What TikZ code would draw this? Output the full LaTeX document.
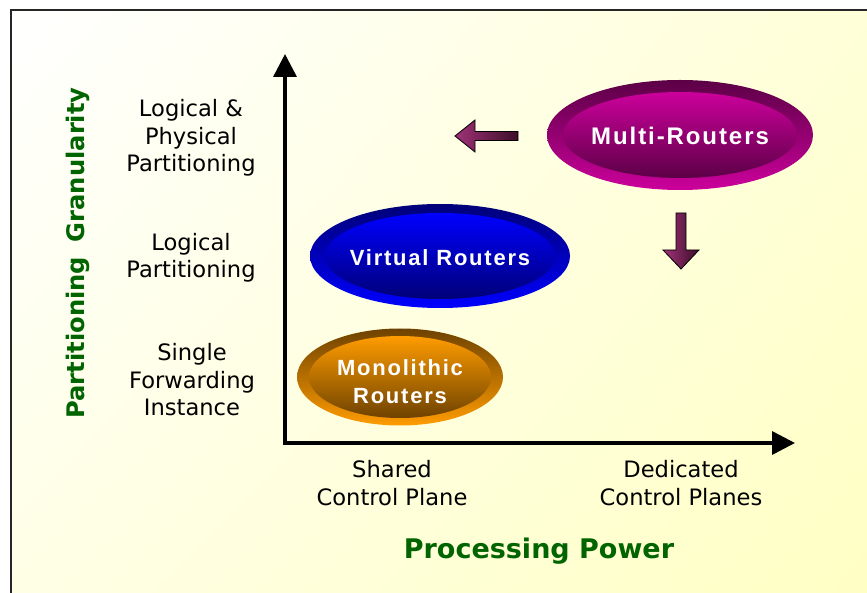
\documentclass[tikz,border=0pt]{standalone}
\usepackage{fontspec}
\setmainfont{DejaVu Sans}
\newfontfamily\ellfont{Liberation Sans}[LetterSpace=8]
\usetikzlibrary{arrows.meta,shapes.geometric,shadings}

\definecolor{bgA}{HTML}{FFFFFF}
\definecolor{bgB}{HTML}{FFFFD8}
\definecolor{bgC}{HTML}{FFFFE6}
\definecolor{bgD}{HTML}{FFFFC4}
\definecolor{titlegreen}{HTML}{006400}
\definecolor{mrDark}{HTML}{5C0046}
\definecolor{mrLight}{HTML}{CC009C}
\definecolor{vrDark}{HTML}{000078}
\definecolor{vrLight}{HTML}{0000FF}
\definecolor{moDark}{HTML}{6E4200}
\definecolor{moLight}{HTML}{FF9C00}
\definecolor{arLight}{HTML}{A03278}
\definecolor{arDark}{HTML}{3C0E28}

\tikzset{
  label/.style={font=\fontsize{22.6}{27.5}\selectfont, align=center, inner sep=0pt},
  axistitle/.style={font=\fontsize{27}{32}\selectfont\bfseries, text=titlegreen, inner sep=0pt},
  outerell/.style={ellipse, inner sep=0pt},
  ellname/.style={text=white, align=center, inner sep=0pt,
    font=\ellfont\bfseries\fontsize{22}{28}\selectfont},
  blockarrow/.style={draw=black, line width=0.8pt, line join=miter,
    left color=arLight, right color=arDark},
  axis/.style={line width=3.5pt, line join=miter,
    {Triangle[length=23pt,width=23pt]}-{Triangle[length=23pt,width=23pt]}}
}

\begin{document}
\begin{tikzpicture}[x=1pt,y=-1pt]
\useasboundingbox (0,0) rectangle (867,593);

% page background and frame
\fill[white] (0,0) rectangle (867,593);
\shade[upper left=bgA, upper right=bgB, lower left=bgC, lower right=bgD]
  (11,10) rectangle (867,593);
\draw[line width=1.5pt, black!85] (11,593) -- (11,10) -- (867,10);

% axes
\coordinate (origin) at (285,443);
\coordinate (ytip) at (285,54);
\coordinate (xtip) at (795,443);
\draw[axis] (ytip) -- (origin) -- (xtip);

% Multi-Routers
\node[outerell, minimum width=266pt, minimum height=110pt,
      top color=mrDark, bottom color=mrLight] (multi) at (680,135) {};
\node[outerell, minimum width=234pt, minimum height=86pt,
      top color=mrLight, bottom color=mrDark] (multiin) at (multi.center) {};
\node[ellname, font=\ellfont\bfseries\fontsize{24}{28}\selectfont] (multitext) at (680,136) {Multi-Routers};

% Virtual Routers
\node[outerell, minimum width=260pt, minimum height=104pt,
      top color=vrDark, bottom color=vrLight] (virtual) at (440,256) {};
\node[outerell, minimum width=230pt, minimum height=86pt,
      top color=vrLight, bottom color=vrDark] (virtualin) at (virtual.center) {};
\node[ellname] (virtualtext) at (440,258) {Virtual Routers};

% Monolithic Routers
\node[outerell, minimum width=206pt, minimum height=97pt,
      top color=moDark, bottom color=moLight] (mono) at (400,377) {};
\node[outerell, minimum width=182pt, minimum height=82pt,
      top color=moLight, bottom color=moDark] (monoin) at (mono.center) {};
\node[ellname] (monotext) at (400,382) {Monolithic\\Routers};

% block arrows
\draw[blockarrow] (455,136) -- (475,120) -- (475,131.5) -- (518,131.5)
  -- (518,140.5) -- (475,140.5) -- (475,152) -- cycle;
\draw[blockarrow] (676,213) -- (686,213) -- (686,250) -- (699,250)
  -- (681,269) -- (663,250) -- (676,250) -- cycle;

% granularity levels
\node[label] (lvl3) at (191,138) {Logical \&\\Physical\\Partitioning};
\node[label] (lvl2) at (191,258) {Logical\\Partitioning};
\node[label] (lvl1) at (192,380) {Single\\Forwarding\\Instance};

% control plane categories
\node[label] (shared) at (392,483) {Shared\\Control Plane};
\node[label] (dedicated) at (681,483) {Dedicated\\Control Planes};

% axis titles
\node[axistitle] (xtitle) at (539,551) {Processing Power};
\node[axistitle, font=\fontsize{24.2}{28}\selectfont\bfseries, rotate=90]
  (ytitle) at (78,253) {Partitioning\hspace{0.6em}Granularity};
\end{tikzpicture}
\end{document}
